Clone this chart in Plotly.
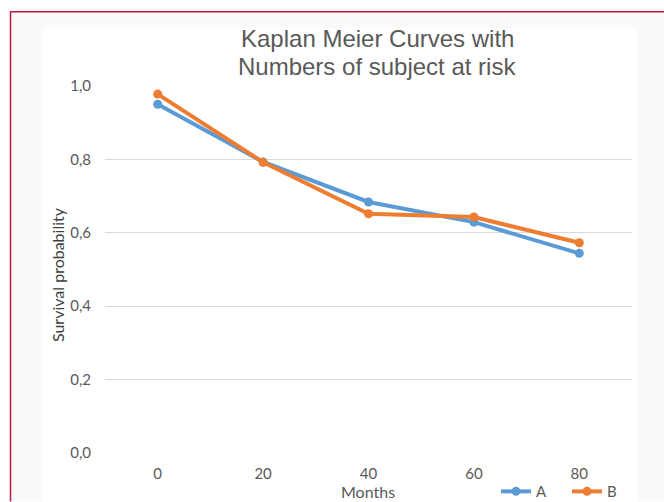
import plotly.graph_objects as go

months = ["0", "20", "40", "60", "80"]
series_a = [0.95, 0.793, 0.684, 0.629, 0.544]
series_b = [0.978, 0.792, 0.652, 0.643, 0.573]
y_ticks = [0, 0.2, 0.4, 0.6, 0.8, 1.0]

W, H = 664, 502
L, R = 105, 632
T, B = 85.5, 453.3

def px(x):
    return (x - L) / (R - L)

def py(y):
    return (B - y) / (B - T)

TICK_FONT = "Lato, Open Sans, sans-serif"

fig = go.Figure()
fig.add_trace(go.Scatter(x=months, y=series_a, name="A", mode="lines+markers",
                         line=dict(color="#5b9bd5", width=4),
                         marker=dict(color="#5b9bd5", size=9)))
fig.add_trace(go.Scatter(x=months, y=series_b, name="B", mode="lines+markers",
                         line=dict(color="#ed7d31", width=4),
                         marker=dict(color="#ed7d31", size=9)))

shapes = [
    dict(type="rect", xref="paper", yref="paper", x0=px(10), x1=px(664), y0=py(502), y1=py(11),
         fillcolor="#fbf9f9", line=dict(width=0), layer="below"),
    dict(type="rect", xref="paper", yref="paper", x0=px(42), x1=px(637), y0=py(502), y1=py(27),
         fillcolor="#ffffff", line=dict(width=0), layer="below"),
    dict(type="line", xref="paper", yref="paper", x0=px(10.5), x1=px(10.5), y0=py(502), y1=py(11),
         line=dict(color="#b5173f", width=1.5), layer="below"),
    dict(type="line", xref="paper", yref="paper", x0=px(10), x1=px(664), y0=py(11), y1=py(11),
         line=dict(color="#b5173f", width=1.5), layer="below"),
]

annotations = [
    dict(text="Kaplan Meier Curves with", xref="paper", yref="paper",
         x=px(377), y=py(38), showarrow=False, xanchor="center", yanchor="middle",
         font=dict(family="Liberation Sans, Arial", size=24, color="#595959")),
    dict(text="Numbers of subject at risk", xref="paper", yref="paper",
         x=px(377), y=py(66), showarrow=False, xanchor="center", yanchor="middle",
         font=dict(family="Liberation Sans, Arial", size=24, color="#595959")),
    dict(text="Survival probability", xref="paper", yref="paper", x=px(57), y=py(275),
         textangle=-90, showarrow=False, xanchor="center", yanchor="middle",
         font=dict(family=TICK_FONT, size=16, color="#404040")),
    dict(text="Months", xref="paper", yref="paper", x=px(368), y=py(492), showarrow=False,
         xanchor="center", yanchor="middle",
         font=dict(family=TICK_FONT, size=16, color="#595959")),
]

fig.update_layout(
    width=W, height=H,
    margin=dict(l=L, r=W - R, t=T, b=H - B, pad=0, autoexpand=False),
    paper_bgcolor="#ffffff",
    plot_bgcolor="rgba(0,0,0,0)",
    separators=",.",
    shapes=shapes,
    annotations=annotations,
    showlegend=True,
    legend=dict(orientation="h", x=px(496), y=py(492), xanchor="left", yanchor="middle",
                bgcolor="rgba(0,0,0,0)", font=dict(family=TICK_FONT, size=15, color="#595959"),
                entrywidth=26, entrywidthmode="pixels", tracegroupgap=0),
    xaxis=dict(type="category", range=[-0.5, 4.5], showgrid=False, zeroline=False, showline=False,
               ticks="", tickfont=dict(family=TICK_FONT, size=15, color="#595959"),
               ticklabelstandoff=10),
    yaxis=dict(range=[0, 1.0], tickvals=y_ticks, tickformat=".1f", showgrid=True,
               gridcolor="#d9d9d9", gridwidth=1, zeroline=False, showline=False, ticks="",
               tickfont=dict(family=TICK_FONT, size=15, color="#595959"),
               ticklabelstandoff=13),
)

fig.write_html("out.html", config={"displayModeBar": False},
               post_script="document.body.style.margin='0';")
